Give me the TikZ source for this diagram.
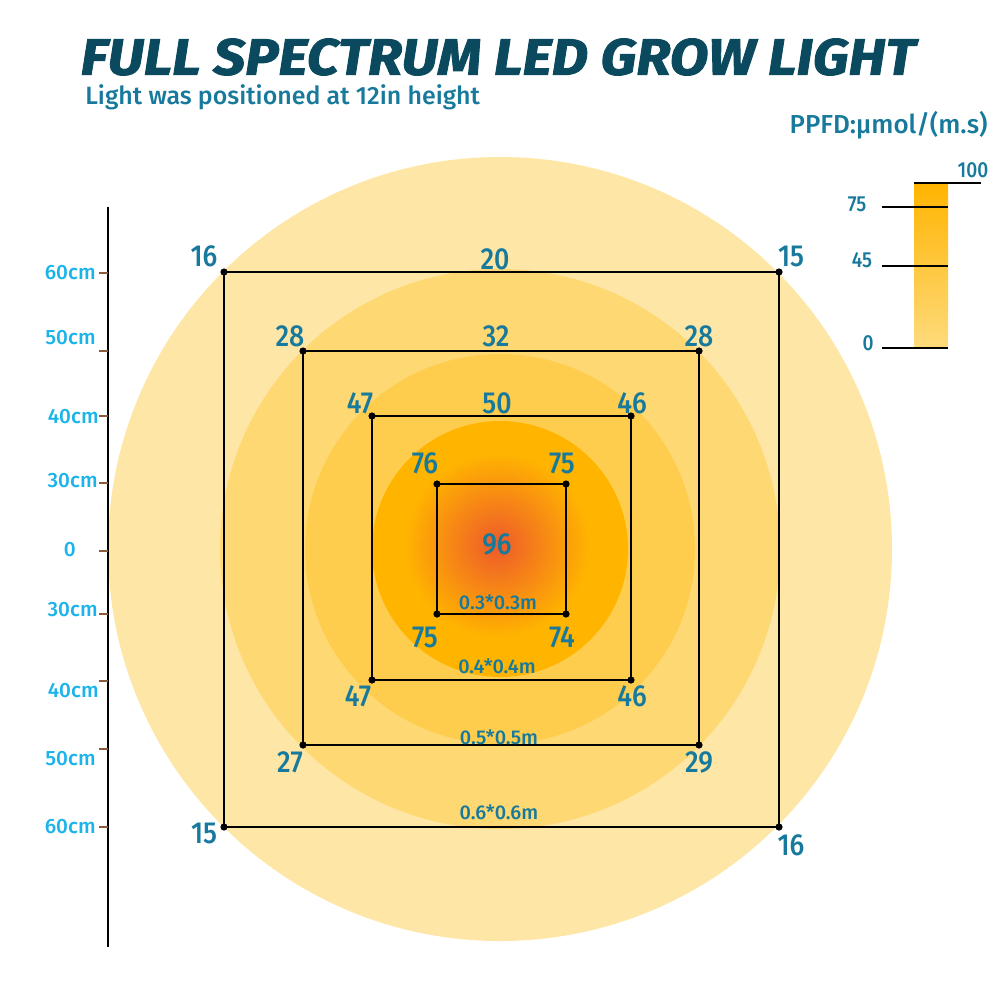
\documentclass[tikz,border=0pt]{standalone}
\usepackage{fontspec}
\setmainfont{Fira Sans}
\newfontfamily\titlefont[FakeStretch=1.105,FakeBold=1.8]{Fira Sans}
\newfontfamily\numfont[FakeStretch=0.88]{Fira Sans Medium}
\newfontfamily\lblfont{Fira Sans Medium}
\usetikzlibrary{shapes}

\definecolor{ringone}{HTML}{FEE6A6}
\definecolor{ringtwo}{HTML}{FED872}
\definecolor{ringthree}{HTML}{FFCD4E}
\definecolor{ringfour}{HTML}{FFB400}
\definecolor{hotspot}{HTML}{EE5A2A}
\definecolor{titleteal}{HTML}{0B4A5E}
\definecolor{valteal}{HTML}{17799B}
\definecolor{axcyan}{HTML}{1BB4EA}
\definecolor{tickbrown}{HTML}{8B5A3A}

\tikzset{
	val/.style={text=valteal, font=\numfont\fontsize{17.3}{18}\selectfont, inner sep=0pt},
	sizelbl/.style={text=valteal, font=\lblfont\fontsize{11.3}{12}\selectfont, inner sep=0pt},
	cmlbl/.style={text=axcyan, font=\lblfont\fontsize{11.8}{12}\selectfont, inner sep=0pt, anchor=east},
	leglbl/.style={text=valteal, font=\numfont\fontsize{12.4}{13}\selectfont, inner sep=0pt},
	axtick/.style={draw=tickbrown, line width=1.1pt},
	frame/.style={draw=black, line width=1.15pt},
}

\begin{document}
\begin{tikzpicture}[x=0.2mm,y=-0.2mm]
		\useasboundingbox (0,0) rectangle (1000,1000);
		% title
		\node[text=titleteal, font=\titlefont\bfseries\itshape\fontsize{29}{30}\selectfont, inner sep=0pt] (title) at (498,57) {FULL SPECTRUM LED GROW LIGHT};
		\node[text=valteal, font=\lblfont\fontsize{14.2}{15}\selectfont, anchor=west, inner sep=0pt] (subtitle) at (85,97) {Light was positioned at 12in height};
		% light rings
		\fill[ringone] (500,549) circle [radius=392];
		\fill[ringtwo] (500,549) circle [radius=280];
		\fill[ringthree] (500,549) circle [radius=195];
		\fill[ringfour] (500,549) circle [radius=128];
		\shade[inner color=hotspot, outer color=ringfour] (497,545) circle [radius=92];
		% left scale
		\coordinate (axtop) at (108,207);
		\coordinate (axbot) at (108,947);
		\draw[line width=1.1pt] (axtop) -- (axbot);
		\draw[axtick] (99,273) -- (108,273);
		\draw[axtick] (99,351) -- (108,351);
		\draw[axtick] (99,416) -- (108,416);
		\draw[axtick] (99,483) -- (108,483);
		\draw[axtick] (99,551) -- (108,551);
		\draw[axtick] (99,614) -- (108,614);
		\draw[axtick] (99,681) -- (108,681);
		\draw[axtick] (99,749) -- (108,749);
		\draw[axtick] (99,827) -- (108,827);
		\node[cmlbl] (cma) at (96,273) {60cm};
		\node[cmlbl] (cmb) at (96,338) {50cm};
		\node[cmlbl] (cmc) at (99,417) {40cm};
		\node[cmlbl] (cmd) at (98,481) {30cm};
		\node[cmlbl] (cme) at (76,550) {0};
		\node[cmlbl] (cmf) at (98,610) {30cm};
		\node[cmlbl] (cmg) at (99,691) {40cm};
		\node[cmlbl] (cmh) at (96,759) {50cm};
		\node[cmlbl] (cmi) at (96,827) {60cm};
		% squares
		\coordinate (sqa1) at (224,272); \coordinate (sqa2) at (779,272);
		\coordinate (sqa3) at (779,827); \coordinate (sqa4) at (224,827);
		\coordinate (sqb1) at (303,351); \coordinate (sqb2) at (699,351);
		\coordinate (sqb3) at (699,745); \coordinate (sqb4) at (303,745);
		\coordinate (sqc1) at (372,416); \coordinate (sqc2) at (631,416);
		\coordinate (sqc3) at (631,680); \coordinate (sqc4) at (372,680);
		\coordinate (sqd1) at (437,484); \coordinate (sqd2) at (566,484);
		\coordinate (sqd3) at (566,614); \coordinate (sqd4) at (437,614);
		\draw[frame] (sqa1) -- (sqa2) -- (sqa3) -- (sqa4) -- cycle;
		\draw[frame] (sqb1) -- (sqb2) -- (sqb3) -- (sqb4) -- cycle;
		\draw[frame] (sqc1) -- (sqc2) -- (sqc3) -- (sqc4) -- cycle;
		\draw[frame] (sqd1) -- (sqd2) -- (sqd3) -- (sqd4) -- cycle;
		\fill (sqa1) circle [radius=3.6]; \fill (sqa2) circle [radius=3.6];
		\fill (sqa3) circle [radius=3.6]; \fill (sqa4) circle [radius=3.6];
		\fill (sqb1) circle [radius=3.6]; \fill (sqb2) circle [radius=3.6];
		\fill (sqb3) circle [radius=3.6]; \fill (sqb4) circle [radius=3.6];
		\fill (sqc1) circle [radius=3.6]; \fill (sqc2) circle [radius=3.6];
		\fill (sqc3) circle [radius=3.6]; \fill (sqc4) circle [radius=3.6];
		\fill (sqd1) circle [radius=3.6]; \fill (sqd2) circle [radius=3.6];
		\fill (sqd3) circle [radius=3.6]; \fill (sqd4) circle [radius=3.6];
		% readings
		\node[val] (va1) at (204,256) {16};
		\node[val] (va0) at (495,259) {20};
		\node[val] (va2) at (791,256) {15};
		\node[val] (va4) at (204,833) {15};
		\node[val] (va3) at (791,845) {16};
		\node[val] (vb1) at (290,336) {28};
		\node[val] (vb0) at (496,336) {32};
		\node[val] (vb2) at (699,336) {28};
		\node[val] (vb4) at (290,762) {27};
		\node[val] (vb3) at (699,762) {29};
		\node[val] (vc1) at (360,403) {47};
		\node[val] (vc0) at (497,403) {50};
		\node[val] (vc2) at (632,403) {46};
		\node[val] (vc4) at (358,696) {47};
		\node[val] (vc3) at (632,696) {46};
		\node[val] (vd1) at (425,463) {76};
		\node[val] (vd2) at (562,463) {75};
		\node[val] (vd4) at (425,637) {75};
		\node[val] (vd3) at (562,637) {74};
		\node[val] (vmid) at (497,544) {96};
		\node[sizelbl] (sza) at (499,812) {0.6*0.6m};
		\node[sizelbl] (szb) at (499,737) {0.5*0.5m};
		\node[sizelbl] (szc) at (497,666) {0.4*0.4m};
		\node[sizelbl] (szd) at (498,602) {0.3*0.3m};
		% legend
		\node[text=valteal, font=\lblfont\fontsize{14.8}{15}\selectfont, anchor=east, inner sep=0pt] (ppfd) at (988,125) {PPFD:µmol/(m.s)};
		\shade[top color=ringfour, middle color=ringfour!55!ringtwo, bottom color=ringtwo!80!ringone] (914,183) rectangle (948,348);
		\draw[line width=1.1pt] (914,183) -- (981,183);
		\draw[line width=1.1pt] (882,207) -- (948,207);
		\draw[line width=1.1pt] (882,266) -- (948,266);
		\draw[line width=1.1pt] (882,348) -- (948,348);
		\node[leglbl] (lg100) at (973,170) {100};
		\node[leglbl] (lg75) at (857,204) {75};
		\node[leglbl] (lg45) at (862,260) {45};
		\node[leglbl] (lg0) at (868,343) {0};
		\end{tikzpicture}
\end{document}
